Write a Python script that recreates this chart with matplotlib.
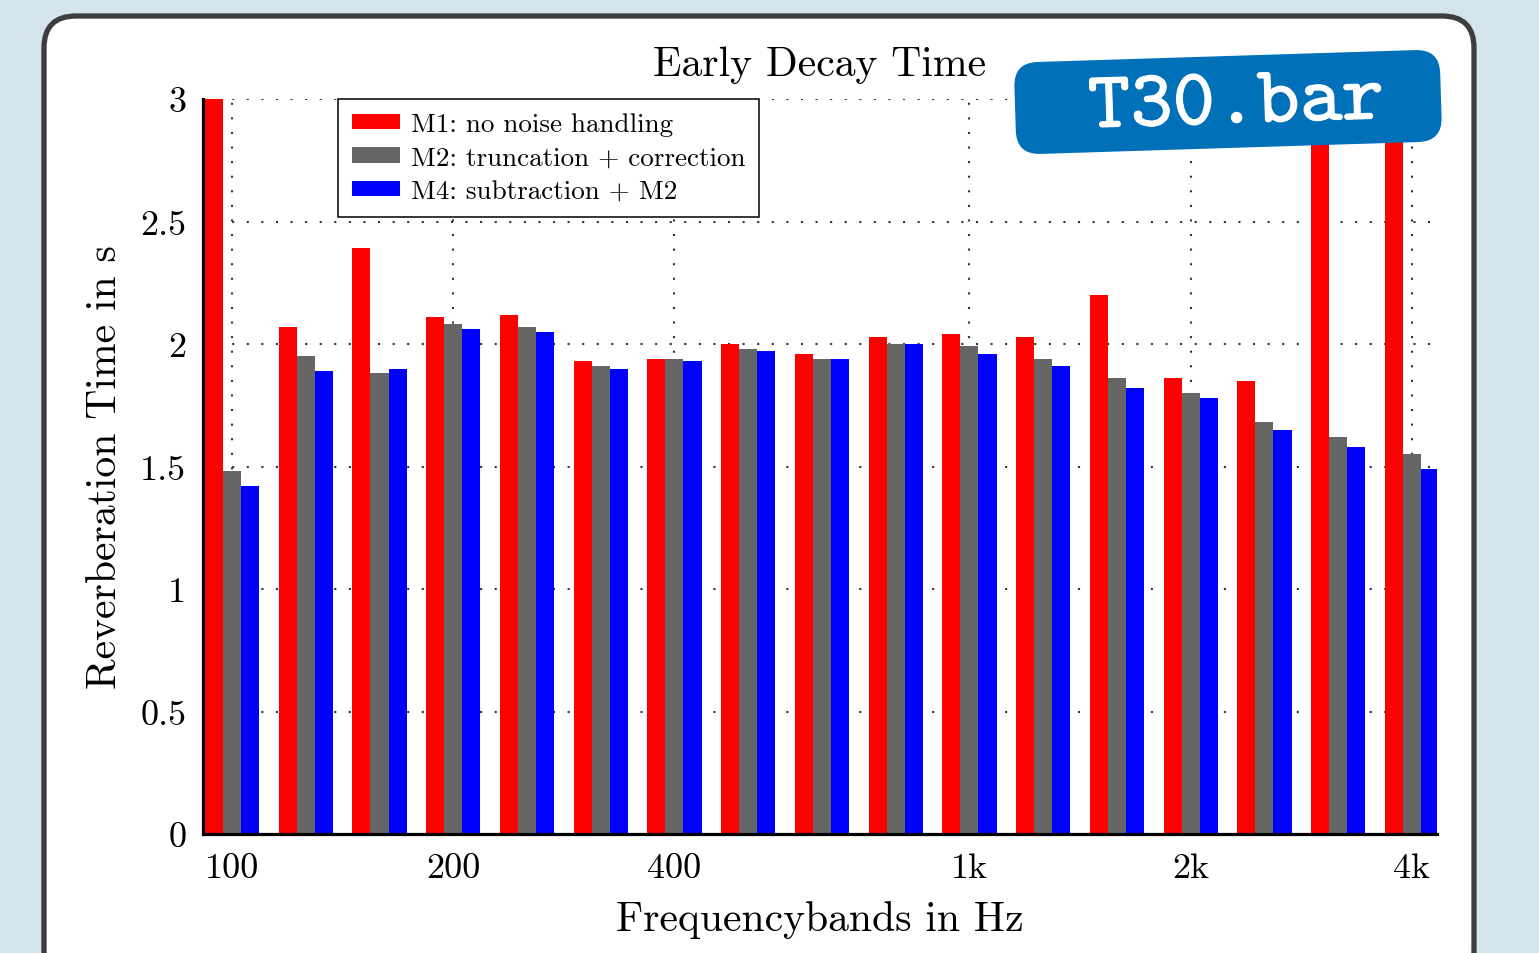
"""
Early Decay Time per third-octave band, three noise-handling methods.
"""

import numpy as np
import matplotlib
matplotlib.use("Agg")
import matplotlib.pyplot as plt
import matplotlib.transforms as mtrans
import matplotlib.patheffects as pe
from matplotlib.patches import FancyBboxPatch

# ----------------------------------------------------------------------------
# Data
# ----------------------------------------------------------------------------
BANDS = ["100", "125", "160", "200", "250", "315", "400", "500", "630",
         "800", "1k", "1.25k", "1.6k", "2k", "2.5k", "3.15k", "4k"]

# red bars at 100 Hz, 3.15k and 4k run past the top of the axis (clipped at 3)
M1_NO_HANDLING = [3.30, 2.07, 2.39, 2.11, 2.12, 1.93, 1.94, 2.00, 1.96,
                  2.03, 2.04, 2.03, 2.20, 1.86, 1.85, 3.50, 3.40]
M2_TRUNCATION = [1.48, 1.95, 1.88, 2.08, 2.07, 1.91, 1.94, 1.98, 1.94,
                 2.00, 1.99, 1.94, 1.86, 1.80, 1.68, 1.62, 1.55]
M4_SUBTRACTION = [1.42, 1.89, 1.90, 2.06, 2.05, 1.90, 1.93, 1.97, 1.94,
                  2.00, 1.96, 1.91, 1.82, 1.78, 1.65, 1.58, 1.49]

SERIES_LABELS = ["M1: no noise handling",
                 "M2: truncation + correction",
                 "M4: subtraction + M2"]

XTICK_BANDS = ["100", "200", "400", "1k", "2k", "4k"]
YTICKS = [0, 0.5, 1, 1.5, 2, 2.5, 3]
YTICK_LABELS = ["0", "0.5", "1", "1.5", "2", "2.5", "3"]

W, H = 1539, 954

plt.rcParams["font.family"] = "cmr10"
plt.rcParams["axes.formatter.use_mathtext"] = True
plt.rcParams["mathtext.fontset"] = "cm"

fig = plt.figure(figsize=(W / 100, H / 100), dpi=100)
fig.patch.set_facecolor("#d3e4ed")


def px(angle=0.0, cx=0.0, cy=0.0):
    """Transform from pixel coords (y up) to figure, optionally rotated."""
    return (mtrans.Affine2D().rotate_deg_around(cx, cy, angle)
            .scale(1 / W, 1 / H) + fig.transFigure)


# white rounded panel behind the chart
panel = FancyBboxPatch((44, -30), 1430, 967,
                       boxstyle="round,pad=0,rounding_size=32",
                       facecolor="white", edgecolor="#3d3d3d",
                       linewidth=3.8, transform=px(), zorder=-5)
fig.patches.append(panel)

ax = fig.add_axes([203 / W, 1 - 835 / H, 1234 / W, 735 / H])
ax.patch.set_alpha(0)

x = np.arange(len(BANDS))
bw = 0.245
ax.bar(x - bw, M1_NO_HANDLING, bw, color="#ff0000", label=SERIES_LABELS[0])
ax.bar(x, M2_TRUNCATION, bw, color="#666666", label=SERIES_LABELS[1])
ax.bar(x + bw, M4_SUBTRACTION, bw, color="#0000ff", label=SERIES_LABELS[2])

ax.set_xlim(-0.393, 16.34)
ax.set_ylim(0, 3)

ax.set_xticks([BANDS.index(b) for b in XTICK_BANDS], XTICK_BANDS)
ax.set_yticks(YTICKS, YTICK_LABELS)
ax.tick_params(length=0, labelsize=26)
ax.tick_params(axis="x", pad=13)
ax.tick_params(axis="y", pad=12)

ax.set_axisbelow(True)
ax.grid(True, color="#333333", linewidth=1.5, linestyle=(0, (1, 6)))

for side in ("top", "right"):
    ax.spines[side].set_visible(False)
for side in ("left", "bottom"):
    ax.spines[side].set_linewidth(2.3)
    ax.spines[side].set_zorder(5)

ax.set_title("Early Decay Time", fontsize=30, pad=17.5)
ax.set_xlabel("Frequencybands in Hz", fontsize=30, labelpad=12)
ax.set_ylabel("Reverberation Time in s", fontsize=30, labelpad=12)

leg = ax.legend(loc="upper left", bbox_to_anchor=(0.1094, 1.0),
                fontsize=19.5, fancybox=False, framealpha=1,
                edgecolor="black", handlelength=1.8, handleheight=0.5,
                borderpad=0.5, labelspacing=0.36, handletextpad=0.4,
                borderaxespad=0)
leg.get_frame().set_linewidth(1.1)

# blue "T30.bar" badge, slightly tilted
cx, cy, ang = 1228, H - 103, 1.8
badge = FancyBboxPatch((cx - 213, cy - 46), 426, 92,
                       boxstyle="round,pad=0,rounding_size=24",
                       facecolor="#0070b8", edgecolor="none",
                       transform=px(ang, cx, cy), zorder=10)
fig.patches.append(badge)
fig.text(cx + 8, cy - 5, "T30.bar", transform=px(ang, cx, cy),
         rotation=ang, rotation_mode="anchor", ha="center", va="center",
         fontsize=58, family="cmtt10", color="white", zorder=11,
         path_effects=[pe.withStroke(linewidth=0.8, foreground="white")])

fig.savefig("out.png", dpi=100, facecolor=fig.get_facecolor())
